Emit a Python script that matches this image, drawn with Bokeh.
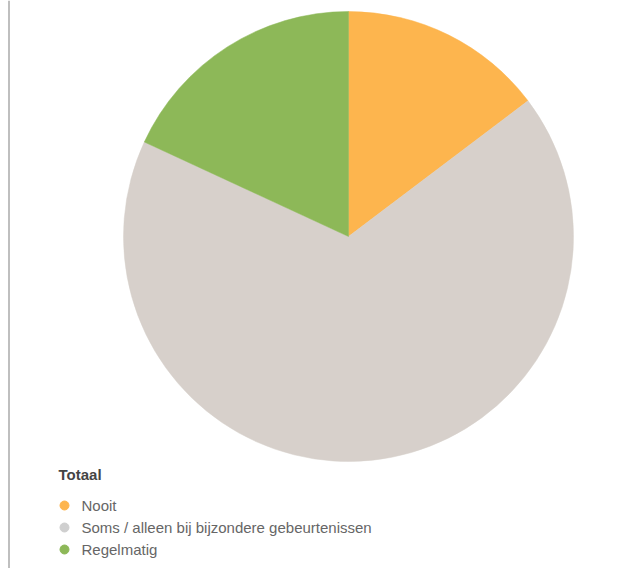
import numpy as np
from bokeh.plotting import figure
from bokeh.models import Range1d, Span
from bokeh.core.properties import value
from bokeh.embed import file_html
from bokeh.resources import INLINE

categories = ["Nooit", "Soms / alleen bij bijzondere gebeurtenissen", "Regelmatig"]
shares = [14.7, 67.2, 18.1]
colors = ["#FDB54E", "#D7D0CB", "#8DB858"]
legend_title = "Totaal"

W, H = 618, 568
p = figure(width=W, height=H, output_backend="svg", toolbar_location=None,
           x_range=Range1d(0, W), y_range=Range1d(0, H), min_border=0)
p.axis.visible = False
p.grid.visible = False
p.outline_line_color = None
p.background_fill_color = "white"
p.border_fill_color = "white"

vals = np.array(shares, dtype=float)
frac = vals / vals.sum()
cum = np.concatenate([[0], np.cumsum(frac)])
start = np.pi / 2 - cum[:-1] * 2 * np.pi
end = np.pi / 2 - cum[1:] * 2 * np.pi

cx, cy, r = 348, H - 236, 225
p.wedge(x=cx, y=cy, radius=r, start_angle=start, end_angle=end, direction="clock",
        fill_color=colors, line_color=colors, line_width=0.5)

# left border line
p.add_layout(Span(location=8.5, dimension="height", line_color="#AAAAAA", line_width=1.5))

# legend
p.text(x=[58], y=[H - 474], text=[legend_title], text_font=value("Liberation Sans"),
       text_font_size="15px", text_font_style="bold", text_color="#444444",
       text_baseline="middle")
ly = [H - 505, H - 527, H - 549]
dot_colors = ["#FDB54E", "#CFCFCF", "#8DB858"]
p.scatter(x=[64] * 3, y=ly, size=9, fill_color=dot_colors, line_color=dot_colors)
p.text(x=[81] * 3, y=ly, text=categories, text_font=value("Liberation Sans"),
       text_font_size="15px", text_color="#666666", text_baseline="middle")

open("out.html", "w").write(file_html(p, INLINE))
